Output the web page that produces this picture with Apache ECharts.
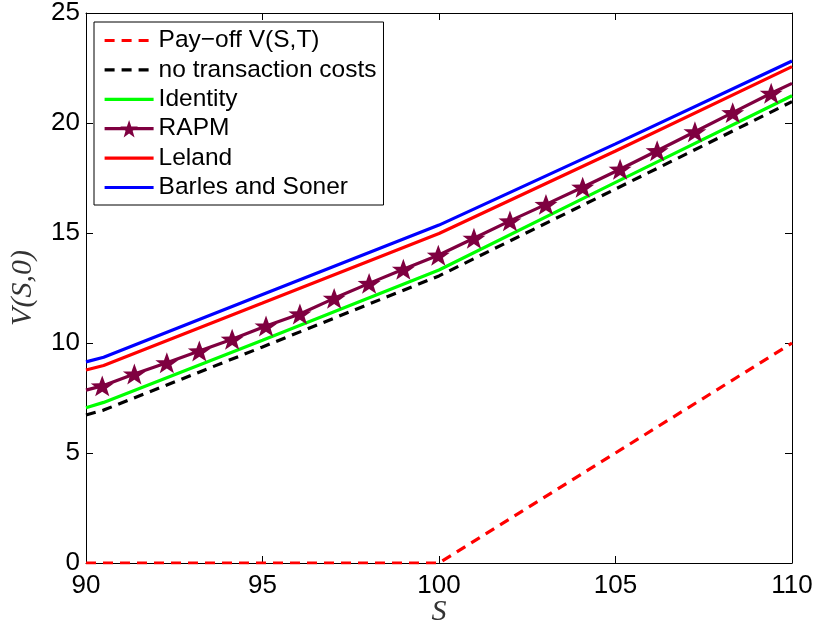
<!DOCTYPE html>
<html>
<head>
<meta charset="utf-8">
<script src="https://cdn.jsdelivr.net/npm/echarts@6/dist/echarts.min.js"></script>
<style>html,body{margin:0;padding:0;background:#fff}#c{width:818px;height:626px}</style>
</head>
<body>
<div id="c"></div>
<script>
// ---- data ----
const xTicks = [90, 95, 100, 105, 110];
const yTicks = [0, 5, 10, 15, 20, 25];
const seriesNames = ['Pay\u2212off V(S,T)', 'no transaction costs', 'Identity', 'RAPM', 'Leland', 'Barles and Soner'];

const payoffS = [90, 100, 110];
const payoffV = [0, 0, 10];

const gridS = [90, 90.5, 95, 100, 105, 110];
const noCostV = [6.73, 6.95, 9.82, 13.05, 17.0, 20.97];
const identityV = [7.06, 7.3, 10.12, 13.32, 17.3, 21.24];
const lelandV = [8.77, 8.98, 11.82, 14.98, 18.73, 22.56];
const barlesV = [9.14, 9.35, 12.2, 15.36, 19.05, 22.82];

const rapmS = [90, 90.46, 91.37, 92.29, 93.21, 94.14, 95.10, 96.06, 97.03, 98.02, 98.99, 99.98,
  100.99, 102.01, 103.03, 104.07, 105.13, 106.18, 107.25, 108.32, 109.41, 110];
const rapmV = [7.86, 8.05, 8.59, 9.10, 9.64, 10.17, 10.77, 11.32, 12.03, 12.71, 13.35, 13.99,
  14.76, 15.55, 16.30, 17.08, 17.90, 18.74, 19.60, 20.47, 21.35, 21.8];

function zip(xs, ys) { return xs.map((x, i) => [x, ys[i]]); }

const star = 'path://M50,0L61.76,33.82L97.55,34.55L69.02,56.18L79.39,90.45L50,70L20.61,90.45L30.98,56.18L2.45,34.55L38.24,33.82Z';

const rapmData = zip(rapmS, rapmV).map((p, i) => {
  if (i === 0 || i === rapmS.length - 1) return { value: p, symbol: 'none' };
  return { value: p };
});

const chart = echarts.init(document.getElementById('c'), null, { renderer: 'canvas' });

const tickFont = { fontFamily: 'Liberation Sans, Arial, sans-serif', fontSize: 26, color: '#000' };
const LW = 3.2;

function lineSeries(name, data, color, dashed, extra) {
  return Object.assign({
    name: name,
    type: 'line',
    data: data,
    showSymbol: false,
    symbol: 'circle',
    smooth: false,
    animation: false,
    lineStyle: { color: color, width: LW, type: dashed ? [10, 7] : 'solid' },
    itemStyle: { color: color },
    z: 3
  }, extra || {});
}

const legendData = seriesNames.map((n, i) => i === 3 ? { name: n } : { name: n, itemStyle: { opacity: 0 } });

chart.setOption({
  backgroundColor: '#fff',
  animation: false,
  grid: { left: 86, right: 26, top: 13, bottom: 63, show: false, outerBoundsMode: 'none', containLabel: false },
  legend: {
    orient: 'vertical',
    left: 94,
    top: 22,
    padding: [6, 7, 5, 9],
    itemGap: 4.4,
    itemWidth: 49,
    itemHeight: 22,
    backgroundColor: '#fff',
    borderColor: '#000',
    borderWidth: 1,
    data: legendData,
    lineStyle: { width: LW },
    textStyle: { fontFamily: 'Liberation Sans, Arial, sans-serif', fontSize: 24.5, color: '#000' }
  },
  xAxis: [{
    type: 'value', min: xTicks[0], max: xTicks[xTicks.length - 1], interval: 5,
    position: 'bottom',
    name: 'S', nameLocation: 'middle', nameGap: 34, nameMoveOverlap: false,
    nameTextStyle: { fontFamily: 'Liberation Serif, DejaVu Serif, serif', fontStyle: 'italic', fontSize: 30, color: '#333' },
    axisLine: { show: true, onZero: false, lineStyle: { color: '#000', width: 1 } },
    axisTick: { show: true, inside: true, length: 7, lineStyle: { color: '#000' } },
    axisLabel: Object.assign({ margin: 10 }, tickFont),
    splitLine: { show: false }
  }, {
    type: 'value', min: xTicks[0], max: xTicks[xTicks.length - 1], interval: 5,
    position: 'top',
    axisLine: { show: true, onZero: false, lineStyle: { color: '#000', width: 1 } },
    axisTick: { show: true, inside: true, length: 7, lineStyle: { color: '#000' } },
    axisLabel: { show: false },
    splitLine: { show: false }
  }],
  yAxis: [{
    type: 'value', min: yTicks[0], max: yTicks[yTicks.length - 1], interval: 5,
    position: 'left',
    name: 'V(S,0)', nameLocation: 'middle', nameGap: 48, nameRotate: 90, nameMoveOverlap: false,
    nameTextStyle: { fontFamily: 'Liberation Serif, DejaVu Serif, serif', fontStyle: 'italic', fontSize: 30, color: '#333' },
    axisLine: { show: true, onZero: false, lineStyle: { color: '#000', width: 1 } },
    axisTick: { show: true, inside: true, length: 7, lineStyle: { color: '#000' } },
    axisLabel: Object.assign({ margin: 6 }, tickFont),
    splitLine: { show: false }
  }, {
    type: 'value', min: yTicks[0], max: yTicks[yTicks.length - 1], interval: 5,
    position: 'right',
    axisLine: { show: true, onZero: false, lineStyle: { color: '#000', width: 1 } },
    axisTick: { show: true, inside: true, length: 7, lineStyle: { color: '#000' } },
    axisLabel: { show: false },
    splitLine: { show: false }
  }],
  series: [
    lineSeries(seriesNames[0], zip(payoffS, payoffV), '#ff0000', true, { z: 4 }),
    lineSeries(seriesNames[1], zip(gridS, noCostV), '#000000', true),
    lineSeries(seriesNames[2], zip(gridS, identityV), '#00ff00', false),
    {
      name: seriesNames[3], type: 'line', data: rapmData,
      showSymbol: true, symbol: star, symbolSize: [23, 22], symbolKeepAspect: true,
      animation: false,
      lineStyle: { color: '#7f0040', width: LW },
      itemStyle: { color: '#7f0040' },
      z: 3
    },
    lineSeries(seriesNames[4], zip(gridS, lelandV), '#ff0000', false),
    lineSeries(seriesNames[5], zip(gridS, barlesV), '#0000ff', false)
  ]
});
</script>
</body>
</html>
